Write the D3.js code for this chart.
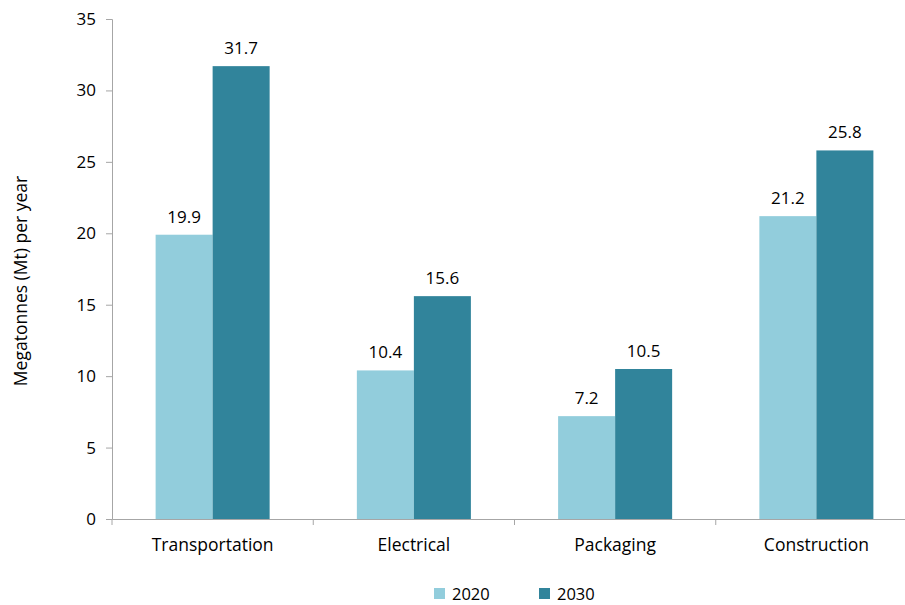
<!DOCTYPE html>
<html>
<head>
<meta charset="utf-8">
<script src="https://cdn.jsdelivr.net/npm/d3@7"></script>
<style>
  body { margin: 0; background: #fff; }
  text { font-family: "Open Sans", sans-serif; fill: #000; }
</style>
</head>
<body>
<div id="chart"></div>
<script>
// chart data
const categories = ['Transportation', 'Electrical', 'Packaging', 'Construction'];
const years = ['2020', '2030'];
const values2020 = [19.9, 10.4, 7.2, 21.2];
const values2030 = [31.7, 15.6, 10.5, 25.8];
const yTicks = [0, 5, 10, 15, 20, 25, 30, 35];

const width = 905, height = 605;
const margin = { top: 19, left: 112, bottom: 86 };
const colors = { '2020': '#92cddc', '2030': '#31849b' };
const axisColor = '#a6a6a6';

const svg = d3.select('#chart').append('svg')
  .attr('width', width).attr('height', height);

// x band spans past the right edge, like the source
const xScale = d3.scaleBand().domain(categories).range([margin.left, 917]).paddingInner(0).paddingOuter(0);
const xInner = d3.scaleBand().domain(years).range([0, xScale.bandwidth()]).paddingOuter(0.765).paddingInner(0);
const yScale = d3.scaleLinear().domain([0, 35]).range([height - margin.bottom, margin.top]);

const series = years.map((y, i) => ({ year: y, vals: i === 0 ? values2020 : values2030 }));

// y axis
const gy = svg.append('g').attr('transform', `translate(${margin.left},0)`)
  .call(d3.axisLeft(yScale).tickValues(yTicks).tickSize(6).tickPadding(10));
gy.select('.domain').attr('stroke', axisColor);
gy.selectAll('.tick line').attr('stroke', axisColor);
gy.selectAll('.tick text').style('font-size', '17px').attr('fill', '#000');

// bars
series.forEach(s => {
  svg.append('g').selectAll('rect')
    .data(s.vals).enter().append('rect')
    .attr('x', (d, i) => xScale(categories[i]) + xInner(s.year))
    .attr('y', d => yScale(d))
    .attr('width', xInner.bandwidth())
    .attr('height', d => yScale(0) - yScale(d))
    .attr('fill', colors[s.year]);

  svg.append('g').selectAll('text')
    .data(s.vals).enter().append('text')
    .attr('x', (d, i) => xScale(categories[i]) + xInner(s.year) + xInner.bandwidth() / 2)
    .attr('y', d => yScale(d) - 12)
    .attr('text-anchor', 'middle')
    .style('font-size', '17px')
    .text(d => d.toFixed(1));
});

// x axis
const gx = svg.append('g').attr('transform', `translate(0,${yScale(0)})`)
  .call(d3.axisBottom(xScale).tickSize(0).tickPadding(20));
gx.select('.domain').attr('stroke', axisColor);
gx.selectAll('.tick text').style('font-size', '17.5px').attr('fill', '#000');
// category separators
gx.selectAll('.sep')
  .data(categories).enter().append('line')
  .attr('x1', d => xScale(d)).attr('x2', d => xScale(d))
  .attr('y1', 0).attr('y2', 6)
  .attr('stroke', axisColor);

// y title
svg.append('text')
  .attr('transform', `translate(27,${(yScale(0) + yScale(35)) / 2 + 12}) rotate(-90)`)
  .attr('text-anchor', 'middle')
  .style('font-size', '17.5px')
  .text('Megatonnes (Mt) per year');

// legend
const legend = svg.append('g').selectAll('g')
  .data(years).enter().append('g')
  .attr('transform', (d, i) => `translate(${434 + i * 105},588)`);
legend.append('rect').attr('width', 11).attr('height', 11).attr('fill', d => colors[d]);
legend.append('text').attr('x', 18).attr('y', 12).style('font-size', '16.5px').text(d => d);
</script>
</body>
</html>
